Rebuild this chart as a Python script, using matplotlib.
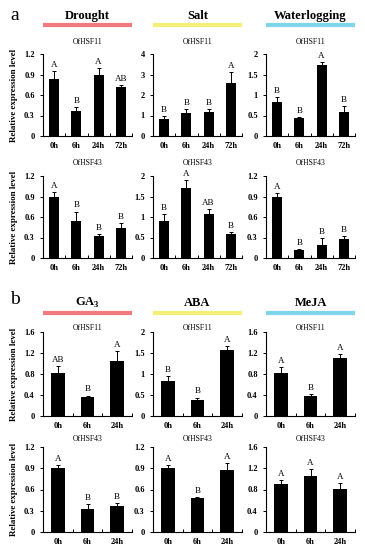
import numpy as np
import matplotlib.pyplot as plt
from matplotlib.ticker import MultipleLocator, FixedLocator

plt.rcParams['font.family'] = ['Liberation Serif', 'DejaVu Serif']
plt.rcParams['mathtext.fontset'] = 'custom'
plt.rcParams['mathtext.rm'] = 'Liberation Serif'
plt.rcParams['mathtext.bf'] = 'Liberation Serif:bold'

times4 = ['0h', '6h', '24h', '72h']
times3 = ['0h', '6h', '24h']

# panel a: abiotic stress
drought_11 = [0.83, 0.36, 0.89, 0.72]
drought_11_err = [0.12, 0.07, 0.11, 0.02]
drought_11_let = ['A', 'B', 'A', 'AB']
salt_11 = [0.85, 1.12, 1.18, 2.60]
salt_11_err = [0.12, 0.20, 0.12, 0.50]
salt_11_let = ['B', 'B', 'B', 'A']
water_11 = [0.82, 0.44, 1.72, 0.58]
water_11_err = [0.13, 0.03, 0.08, 0.15]
water_11_let = ['B', 'B', 'A', 'B']

drought_43 = [0.90, 0.54, 0.32, 0.44]
drought_43_err = [0.06, 0.14, 0.03, 0.07]
drought_43_let = ['A', 'B', 'B', 'B']
salt_43 = [0.90, 1.70, 1.08, 0.58]
salt_43_err = [0.18, 0.20, 0.12, 0.06]
salt_43_let = ['B', 'A', 'AB', 'B']
water_43 = [0.90, 0.12, 0.19, 0.28]
water_43_err = [0.05, 0.01, 0.10, 0.04]
water_43_let = ['A', 'B', 'B', 'B']

# panel b: hormones
ga_11 = [0.82, 0.37, 1.05]
ga_11_err = [0.13, 0.02, 0.19]
ga_11_let = ['AB', 'B', 'A']
aba_11 = [0.83, 0.38, 1.58]
aba_11_err = [0.13, 0.06, 0.08]
aba_11_let = ['B', 'B', 'A']
meja_11 = [0.82, 0.38, 1.10]
meja_11_err = [0.12, 0.03, 0.08]
meja_11_let = ['A', 'B', 'A']

ga_43 = [0.90, 0.32, 0.37]
ga_43_err = [0.05, 0.08, 0.04]
ga_43_let = ['A', 'B', 'B']
aba_43 = [0.90, 0.48, 0.87]
aba_43_err = [0.05, 0.01, 0.10]
aba_43_let = ['A', 'B', 'A']
meja_43 = [0.90, 1.05, 0.81]
meja_43_err = [0.07, 0.13, 0.12]
meja_43_let = ['A', 'A', 'A']

headings_a = ['Drought', 'Salt', 'Waterlogging']
headings_b = ['GA$_\\mathbf{3}$', 'ABA', 'MeJA']
head_colors = ['#f4797c', '#f5ef78', '#7fd6ea']

panels = [
    # row, col, labels, values, errors, letters, ymax, step, gene
    (0, 0, times4, drought_11, drought_11_err, drought_11_let, 1.2, 0.3, 'OfHSF11'),
    (0, 1, times4, salt_11, salt_11_err, salt_11_let, 4, 1, 'OfHSF11'),
    (0, 2, times4, water_11, water_11_err, water_11_let, 2, 0.5, 'OfHSF11'),
    (1, 0, times4, drought_43, drought_43_err, drought_43_let, 1.2, 0.3, 'OfHSF43'),
    (1, 1, times4, salt_43, salt_43_err, salt_43_let, 2, 0.5, 'OfHSF43'),
    (1, 2, times4, water_43, water_43_err, water_43_let, 1.2, 0.3, 'OfHSF43'),
    (2, 0, times3, ga_11, ga_11_err, ga_11_let, 1.6, 0.4, 'OfHSF11'),
    (2, 1, times3, aba_11, aba_11_err, aba_11_let, 2, 0.5, 'OfHSF11'),
    (2, 2, times3, meja_11, meja_11_err, meja_11_let, 1.6, 0.4, 'OfHSF11'),
    (3, 0, times3, ga_43, ga_43_err, ga_43_let, 1.2, 0.3, 'OfHSF43'),
    (3, 1, times3, aba_43, aba_43_err, aba_43_let, 1.2, 0.3, 'OfHSF43'),
    (3, 2, times3, meja_43, meja_43_err, meja_43_let, 1.6, 0.4, 'OfHSF43'),
]

W, H = 365, 550
fig = plt.figure(figsize=(W / 100, H / 100), dpi=100)

col_left = [43, 153, 266]
col_w = 89
row_box = [(54, 136), (176, 258), (332, 416), (447, 532)]
title_px = [42, 163, 328, 439]

axes = {}
for row, col, labels, vals, errs, lets, ymax, step, gene in panels:
    top, bot = row_box[row]
    ax = fig.add_axes([col_left[col] / W, 1 - bot / H, col_w / W, (bot - top) / H])
    axes[(row, col)] = ax
    x = np.arange(len(vals))
    ax.bar(x, vals, width=0.45, color='black', zorder=2)
    ax.errorbar(x, vals, yerr=errs, fmt='none', ecolor='black',
                elinewidth=0.7, capsize=1.3, capthick=0.7, zorder=3)
    for xi, v, e, l in zip(x, vals, errs, lets):
        ax.annotate(l, (xi, v + e), xytext=(0, 1.5), textcoords='offset points',
                    ha='center', va='bottom', fontsize=6.5)
    ax.set_xlim(-0.5, len(vals) - 0.5)
    ax.set_ylim(0, ymax)
    ax.yaxis.set_major_locator(MultipleLocator(step))
    ax.yaxis.set_major_formatter(plt.FuncFormatter(lambda v, p: '%g' % v))
    ax.set_xticks(x)
    ax.set_xticklabels(labels)
    ax.xaxis.set_minor_locator(FixedLocator(np.arange(len(vals) + 1) - 0.5))
    ax.tick_params(axis='x', which='major', length=0, pad=4.5)
    ax.tick_params(axis='x', which='minor', length=2, direction='in', width=0.7)
    ax.tick_params(axis='y', length=2, direction='out', width=0.7, pad=4)
    for lab in ax.get_xticklabels() + ax.get_yticklabels():
        lab.set_fontsize(6)
        lab.set_fontweight('bold')
    for s in ['top', 'right']:
        ax.spines[s].set_visible(False)
    for s in ['left', 'bottom']:
        ax.spines[s].set_linewidth(0.8)
    ty = (bot - title_px[row]) / (bot - top)
    ax.text(0.5, ty, gene, transform=ax.transAxes, ha='center', va='center', fontsize=5.5)
    if col == 0:
        ax.set_ylabel('Relative expression level', fontsize=6.5, fontweight='bold', labelpad=4)

# headings with coloured bars
for row, heads, line_px, text_px in [(0, headings_a, 25, 16), (2, headings_b, 313, 303)]:
    for col in range(3):
        ax = axes[(row, col)]
        top, bot = row_box[row]
        hgt = bot - top
        ly = (bot - line_px) / hgt
        ax.plot([0, 1], [ly, ly], transform=ax.transAxes, color=head_colors[col],
                lw=3, solid_capstyle='butt', clip_on=False)
        ax.text(0.5, (bot - text_px) / hgt, heads[col], transform=ax.transAxes,
                ha='center', va='center', fontsize=9, fontweight='bold')

fig.text(15 / W, 1 - 15 / H, 'a', fontsize=14, ha='center', va='center')
fig.text(15 / W, 1 - 300 / H, 'b', fontsize=14, ha='center', va='center')

fig.savefig('out.png', dpi=100)
